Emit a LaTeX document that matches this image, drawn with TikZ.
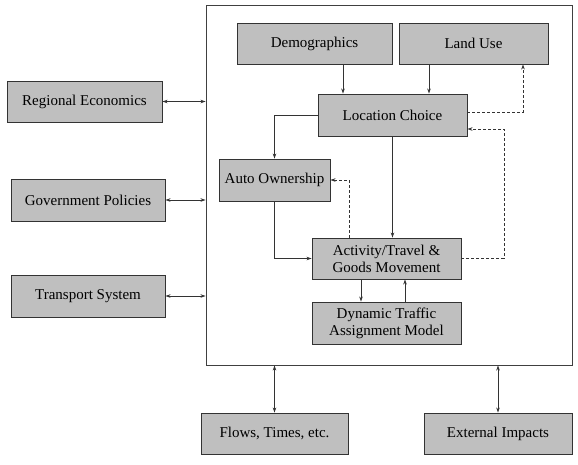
\documentclass[tikz,border=0pt]{standalone}
\usepackage{fontspec}
\setmainfont{Liberation Serif}
\usetikzlibrary{arrows.meta}
\begin{document}
\begin{tikzpicture}[x=1pt,y=-1pt,
  box/.style={draw=black!80,line width=0.9pt,fill=black!25,inner sep=0pt,align=center,
    font=\fontsize{15}{17}\selectfont,text=black},
  outer/.style={draw=black!75,line width=0.9pt,inner sep=0pt},
  con/.style={draw=black!80,line width=0.8pt,-{Stealth[length=5pt,width=3.5pt]}},
  dcon/.style={con,dashed,dash pattern=on 3pt off 2pt},
  bcon/.style={draw=black!80,line width=0.8pt,{Stealth[length=5pt,width=3.5pt]}-{Stealth[length=5pt,width=3.5pt]}}]
\useasboundingbox (0,0) rectangle (578,464);
\node[outer,minimum width=366pt,minimum height=360pt] (big) at (389,185) {};
\node[box,minimum width=155pt,minimum height=41pt] (dem) at (314.5,43.5) {Demographics};
\node[box,minimum width=149pt,minimum height=41pt] (land) at (473.5,43.5) {Land Use};
\node[box,minimum width=149pt,minimum height=42pt] (lc) at (392.5,115) {Location Choice};
\node[box,minimum width=111pt,minimum height=42pt] (auto) at (274.5,180) {Auto Ownership};
\node[box,minimum width=149pt,minimum height=41pt] (act) at (386.5,258.5) {Activity/Travel \&\\Goods Movement};
\node[box,minimum width=149pt,minimum height=42pt] (dta) at (386.5,323) {Dynamic Traffic\\Assignment Model};
\node[box,minimum width=155pt,minimum height=41pt] (reg) at (84.5,101.5) {Regional Economics};
\node[box,minimum width=154pt,minimum height=42pt] (gov) at (88,200) {Government Policies};
\node[box,minimum width=154pt,minimum height=42pt] (trans) at (88,296) {Transport System};
\node[box,minimum width=147pt,minimum height=41pt] (flows) at (274.5,433.5) {Flows, Times, etc.};
\node[box,minimum width=148pt,minimum height=41pt] (ext) at (498,433.5) {External Impacts};
\coordinate (c1) at (523,112);
\coordinate (c2) at (504,129);
\coordinate (c3) at (349,180);
% connectors
\draw[con] (dem.south -| 343,0) -- (lc.north -| 343,0);
\draw[con] (land.south -| 429,0) -- (lc.north -| 429,0);
\draw[dcon] (lc.east |- c1) -- (c1) -- (land.south -| c1);
\draw[dcon] (act.east) -| (c2) -- (lc.east |- c2);
\draw[con] (lc.west) -| (auto.north);
\draw[con] (lc.south) -- (act.north -| lc.south);
\draw[dcon] (act.north -| c3) -- (c3) -- (auto.east);
\draw[con,line width=1.3pt] (auto.south) |- (act.west);
\draw[con] (act.south -| 361,0) -- (dta.north -| 361,0);
\draw[con] (dta.north -| 405,0) -- (act.south -| 405,0);
\draw[bcon] (reg.east) -- (reg.east -| big.west);
\draw[bcon] (gov.east) -- (gov.east -| big.west);
\draw[bcon] (trans.east) -- (trans.east -| big.west);
\draw[bcon] (big.south -| flows.north) -- (flows.north);
\draw[bcon] (big.south -| ext.north) -- (ext.north);
\end{tikzpicture}
\end{document}
